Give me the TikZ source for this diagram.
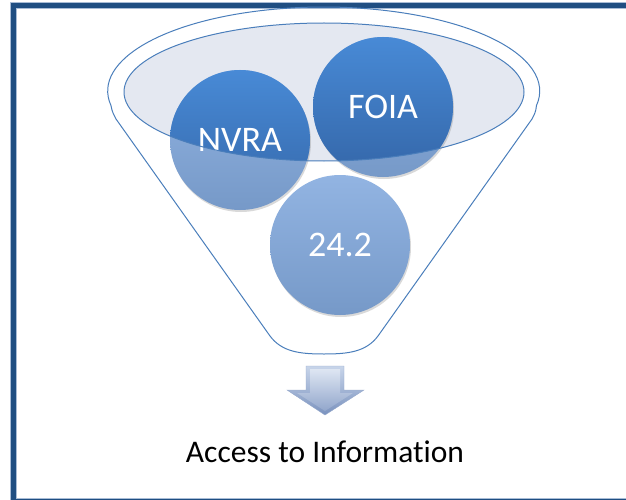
\documentclass[tikz,border=0pt]{standalone}
\usepackage{fontspec}
\setmainfont{Carlito}[Ligatures=NoCommon]
\usepackage{xcolor}
\usetikzlibrary{shadows}
\definecolor{framebl}{RGB}{31,78,130}
\definecolor{framelt}{RGB}{168,188,214}
\definecolor{rimbl}{RGB}{74,126,187}
\definecolor{poolfill}{RGB}{228,232,241}
\definecolor{darktop}{RGB}{72,138,214}
\definecolor{darkbot}{RGB}{52,102,168}
\definecolor{lighttop}{RGB}{146,180,226}
\definecolor{lightbot}{RGB}{118,153,200}
\definecolor{arrowtop}{RGB}{200,213,234}
\definecolor{arrowbot}{RGB}{122,146,190}

\begin{document}
\begin{tikzpicture}[x=1pt, y=1pt,
    bubble/.style={circle, minimum size=140pt, inner sep=0pt, text=white,
        font=\fontsize{36}{36}\selectfont, top color=lighttop, bottom color=lightbot,
        drop shadow={opacity=.3, shadow xshift=1pt, shadow yshift=-2pt},
        path picture={\clip (pool) ellipse (200pt and 69pt);
            \shade[top color=darktop, bottom color=darkbot] (path picture bounding box.south west) rectangle (path picture bounding box.north east);}},
    rim/.style={draw=rimbl, line width=1pt}]
    \useasboundingbox (0,0) rectangle (626,-500);
    \draw[framelt, line width=7pt] (13,-6) rectangle (660,-501);
    \draw[framebl, line width=5pt] (13,-6) rectangle (660,-501);

    \coordinate (pool) at (324,-92);
    \fill[poolfill] (pool) ellipse (200pt and 69pt);
    \draw[rim] (111,-105.6) arc (190:-10:216pt and 84pt)
        .. controls (536,-112) and (534,-115) .. (532,-119) -- (378,-336)
        .. controls (366,-352) and (348,-354) .. (324,-354)
        .. controls (300,-354) and (282,-352) .. (270,-336) -- (116,-119)
        .. controls (114,-115) and (112,-112) .. cycle;

    \node[bubble] (nvra) at (240,-140) {NVRA};
    \node[bubble] (foia) at (383,-107) {FOIA};
    \node[bubble] (rule) at (340,-245) {24.2};
    \draw[rim] (pool) ellipse (200pt and 69pt);

    \shade[top color=arrowtop, bottom color=arrowbot, draw=arrowbot!80!white]
        (306,-366) -- (344,-366) -- (344,-390) -- (364,-390) -- (325,-415) -- (287,-390) -- (306,-390) -- cycle;
    \shade[top color=arrowtop!60!white, bottom color=arrowbot!70!arrowtop]
        (310,-369) -- (340,-369) -- (340,-393) -- (353,-393) -- (325,-411) -- (297,-393) -- (310,-393) -- cycle;

    \node[font=\fontsize{31.5}{32}\selectfont] (access) at (325,-452) {Access to Information};
\end{tikzpicture}
\end{document}
